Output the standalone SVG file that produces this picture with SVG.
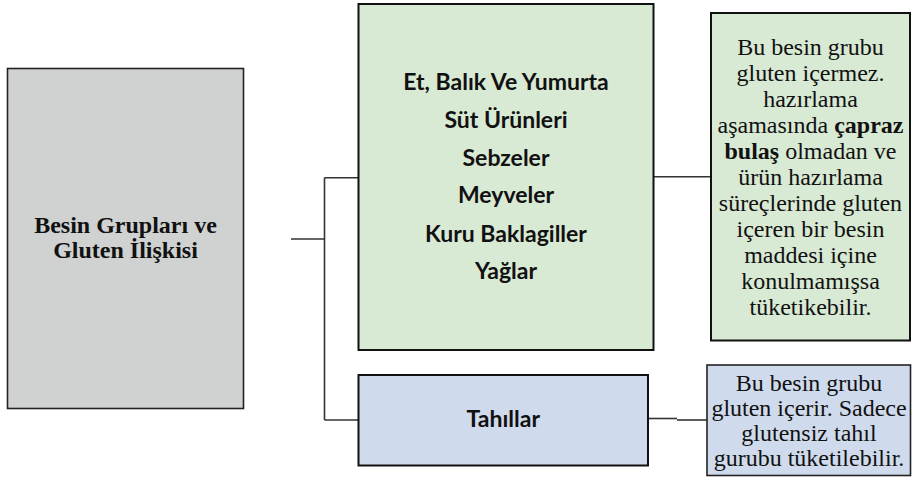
<svg xmlns="http://www.w3.org/2000/svg" width="912" height="477" viewBox="0 0 912 477">
<style>
.serif{font-family:"Liberation Serif","Times New Roman",serif;font-size:24px;fill:#111;text-anchor:middle}
.sans{font-family:Lato,"Open Sans","Liberation Sans",sans-serif;font-size:23px;font-weight:700;fill:#111;text-anchor:middle}
.b{font-weight:700}
.box{stroke:#111;stroke-width:2}
.con{fill:none;stroke:#333;stroke-width:1.6}
</style>
<rect width="912" height="477" fill="#fff"/>
<g id="connectors">
<path class="con" d="M291,239 H324.5"/>
<path class="con" d="M324.5,177.7 V420"/>
<path class="con" d="M324.5,177.7 H358.5"/>
<path class="con" d="M324.5,420 H358.5"/>
<path class="con" d="M653.5,176.7 H711"/>
<path class="con" d="M648,418.5 H677"/>
<path class="con" d="M677,420 H707"/>
</g>
<g id="root">
<rect x="7.5" y="68.5" width="236" height="340" fill="#d0d2d2" stroke="#222" stroke-width="1.6"/>
<text class="serif b" x="125.5" y="233">Besin Grupları ve</text>
<text class="serif b" x="125.5" y="258">Gluten İlişkisi</text>
</g>
<g id="gluten-free-groups">
<rect class="box" x="358.5" y="4" width="295" height="346" fill="#d8e9d4"/>
<text class="sans" x="506" y="90">Et, Balık Ve Yumurta</text>
<text class="sans" x="506" y="128">Süt Ürünleri</text>
<text class="sans" x="506" y="166">Sebzeler</text>
<text class="sans" x="506" y="203">Meyveler</text>
<text class="sans" x="506" y="242">Kuru Baklagiller</text>
<text class="sans" x="506" y="279">Yağlar</text>
</g>
<g id="gluten-free-note">
<rect class="box" x="711" y="13" width="199" height="327.5" fill="#d8e9d4"/>
<text class="serif" x="810.5" y="54.7">Bu besin grubu</text>
<text class="serif" x="810.5" y="80.7">gluten içermez.</text>
<text class="serif" x="810.5" y="106.7">hazırlama</text>
<text class="serif" x="810.5" y="132.7">aşamasında <tspan class="b">çapraz</tspan></text>
<text class="serif" x="810.5" y="158.7"><tspan class="b">bulaş</tspan> olmadan ve</text>
<text class="serif" x="810.5" y="184.7">ürün hazırlama</text>
<text class="serif" x="810.5" y="210.7">süreçlerinde gluten</text>
<text class="serif" x="810.5" y="236.7">içeren bir besin</text>
<text class="serif" x="810.5" y="262.7">maddesi içine</text>
<text class="serif" x="810.5" y="288.7">konulmamışsa</text>
<text class="serif" x="810.5" y="314.7">tüketikebilir.</text>
</g>
<g id="grains">
<rect class="box" x="358.5" y="375" width="289.5" height="90.5" fill="#cfdbec"/>
<text class="sans" x="503.3" y="427">Tahıllar</text>
</g>
<g id="grains-note">
<rect x="707" y="365" width="203.5" height="110.5" fill="#cfdbec" stroke="#222" stroke-width="1.6"/>
<text class="serif" x="809" y="391">Bu besin grubu</text>
<text class="serif" x="809" y="416">gluten içerir. Sadece</text>
<text class="serif" x="809" y="441">glutensiz tahıl</text>
<text class="serif" x="809" y="466">gurubu tüketilebilir.</text>
</g>
</svg>
